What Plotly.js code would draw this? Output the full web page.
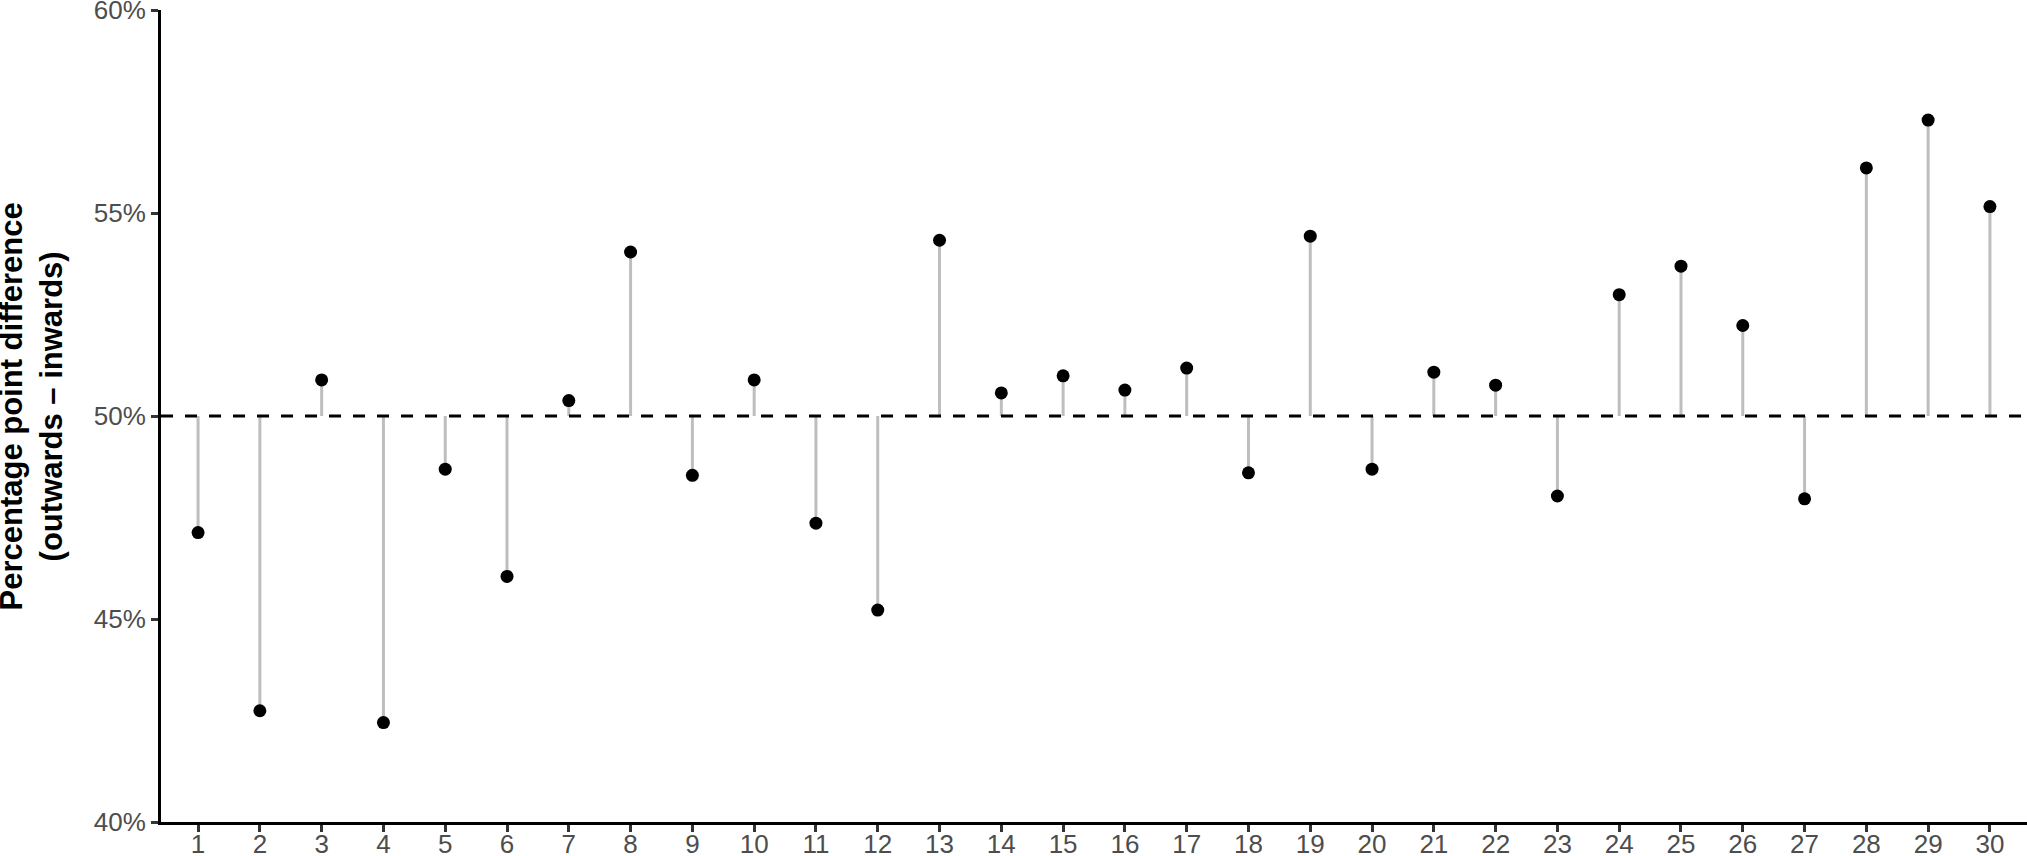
<!DOCTYPE html>
<html>
<head>
<meta charset="utf-8">
<script src="https://cdn.plot.ly/plotly-3.0.1.min.js"></script>
<style>
  html, body { margin: 0; padding: 0; background: #fff; }
  #chart { width: 2027px; height: 856px; }
</style>
</head>
<body>
<div id="chart"></div>
<script>
// Categories (item index)
const categories = [1,2,3,4,5,6,7,8,9,10,11,12,13,14,15,16,17,18,19,20,21,22,23,24,25,26,27,28,29,30];
// Share values (fraction)
const values = [0.4713,0.4274,0.5089,0.4245,0.4869,0.4605,0.5038,0.5404,0.4854,0.5089,
                0.4736,0.4522,0.5433,0.5057,0.5099,0.5064,0.5118,0.4860,0.5443,0.4869,
                0.5108,0.5076,0.4803,0.5299,0.5369,0.5223,0.4796,0.5611,0.5729,0.5516];
const baseline = 0.5;
const yTickVals = [0.40,0.45,0.50,0.55,0.60];
const yTickText = ["40%","45%","50%","55%","60%"];
const yTitle = "Percentage point difference<br>(outwards – inwards)";

// Build stem segments from baseline to each value
const stemX = [], stemY = [];
categories.forEach((c, i) => {
  stemX.push(c, c, null);
  stemY.push(baseline, values[i], null);
});

const traces = [
  { type: 'scatter', mode: 'lines', x: stemX, y: stemY,
    line: { color: '#BEBEBE', width: 3 }, hoverinfo: 'skip', showlegend: false },
  { type: 'scatter', mode: 'markers', x: categories, y: values,
    marker: { color: '#000000', size: 13 }, showlegend: false }
];

const tickFont = { family: 'Liberation Sans, Arial, sans-serif', size: 26, color: '#4D4D4D' };

const layout = {
  width: 2027, height: 856,
  margin: { l: 161, r: 0, t: 10, b: 34, pad: 0 },
  paper_bgcolor: '#ffffff', plot_bgcolor: '#ffffff',
  showlegend: false,
  xaxis: {
    range: [0.4, 30.6], tickvals: categories, ticktext: categories.map(String),
    showgrid: false, zeroline: false,
    showline: true, linecolor: '#000000', linewidth: 3,
    ticks: 'outside', ticklen: 7, tickwidth: 3, tickcolor: '#333333',
    tickfont: tickFont, ticklabelstandoff: -10, ticklabeloverflow: 'allow'
  },
  yaxis: {
    range: [0.4, 0.60001], tickvals: yTickVals, ticktext: yTickText,
    showgrid: false, zeroline: false,
    showline: true, linecolor: '#000000', linewidth: 3,
    ticks: 'outside', ticklen: 7, tickwidth: 3, tickcolor: '#333333',
    tickfont: tickFont, ticklabeloverflow: 'allow'
  },
  annotations: [
    { text: yTitle, textangle: -90, showarrow: false,
      xref: 'paper', x: 0, xanchor: 'left', xshift: -170,
      yref: 'paper', y: 0.5, yanchor: 'middle', yshift: 9,
      font: { family: 'Liberation Sans, Arial, sans-serif', size: 31, color: '#000000', weight: 'bold' } }
  ],
  shapes: [
    { type: 'line', xref: 'paper', x0: 0, x1: 1, yref: 'y', y0: baseline, y1: baseline,
      line: { color: '#000000', width: 3, dash: '12px,12px' }, layer: 'above' }
  ]
};

Plotly.newPlot('chart', traces, layout, { displayModeBar: false, staticPlot: true });
</script>
</body>
</html>
